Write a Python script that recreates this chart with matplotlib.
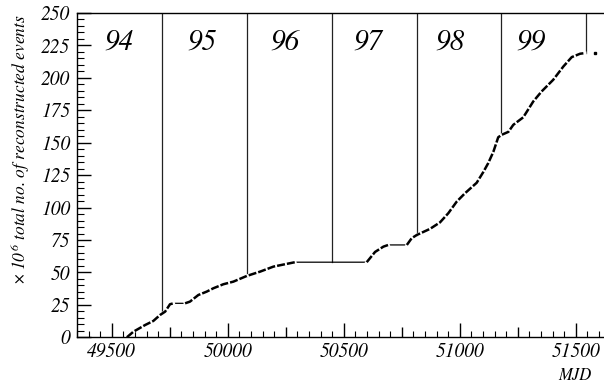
import numpy as np
import matplotlib
matplotlib.use("Agg")
import matplotlib.pyplot as plt
from matplotlib.ticker import MultipleLocator, FuncFormatter

# ---- data ----
mjd = [49565, 49593, 49644, 49679, 49708, 49730, 49751, 49766, 49816, 49837,
       49873, 49909, 49938, 49981, 50024, 50082, 50139, 50197, 50254, 50290,
       50599, 50635, 50671, 50692, 50772, 50793, 50815, 50872, 50915, 50951,
       50987, 51023, 51073, 51102, 51123, 51145, 51166, 51181, 51210, 51231,
       51274, 51317, 51353, 51403, 51447, 51483, 51519, 51540]
events = [0.0, 4.3, 9.5, 12.6, 17.2, 19.8, 25.5, 26.2, 26.2, 27.5,
          32.6, 35.2, 37.8, 40.9, 42.9, 47.3, 50.6, 54.5, 56.6, 57.9,
          57.9, 65.8, 69.9, 71.2, 71.2, 76.4, 78.9, 83.6, 88.6, 95.7,
          104.6, 111.1, 119.1, 127.5, 134.3, 143.0, 154.2, 156.1, 158.4, 163.8,
          169.6, 181.8, 189.5, 198.5, 208.8, 216.0, 218.6, 219.1]
last_point_mjd = [51583]
last_point_events = [219.1]

year_start_mjd = [49718, 50083, 50449, 50814, 51179, 51544]
year_labels = ["94", "95", "96", "97", "98", "99"]
year_label_mjd = [49530, 49888, 50247, 50603, 50958, 51307]
year_label_y = 227.5

x_ticks_labeled = [49500, 50000, 50500, 51000, 51500]
y_ticks = [0, 25, 50, 75, 100, 125, 150, 175, 200, 225, 250]

# ---- figure ----
serif = ["STIXGeneral", "Liberation Serif", "DejaVu Serif"]
plt.rcParams["font.family"] = serif
plt.rcParams["font.style"] = "italic"
plt.rcParams["mathtext.fontset"] = "stix"
fig = plt.figure(figsize=(6.04, 3.82), dpi=100)
ax = fig.add_axes([77/604, (382-337.3)/382, 1.0 - 77/604, (337.3-13)/382])

mjd_a = np.array(mjd, float)
ev_a = np.array(events, float)

# thin solid line through everything (flat periods)
ax.plot(mjd_a, ev_a, color="black", lw=0.9, solid_capstyle="butt", zorder=2)

# dashed thick line only on data-taking segments (break on flat parts)
xs, ys = [], []
for i in range(len(mjd_a) - 1):
    xs.append(mjd_a[i]); ys.append(ev_a[i])
    if ev_a[i + 1] == ev_a[i]:
        xs.append(np.nan); ys.append(np.nan)
xs.append(mjd_a[-1]); ys.append(ev_a[-1])
ax.plot(xs, ys, color="white", lw=2.2, zorder=3)
ax.plot(xs, ys, color="black", lw=1.8, ls=(0, (3.2, 0.8)), zorder=4)
ax.plot(last_point_mjd, last_point_events, ls="none", marker="s",
        ms=1.8, color="black", zorder=4)

# year boundaries
for ys_ in year_start_mjd:
    v = np.interp(ys_, mjd_a, ev_a)
    ax.plot([ys_, ys_], [v, 250], color="#222222", lw=0.9, zorder=1)

for lab, xm in zip(year_labels, year_label_mjd):
    ax.text(xm, year_label_y, lab, ha="center", va="center",
            fontsize=21, family=serif, style="italic")

ax.set_xlim(49350, 51622)
ax.set_ylim(0, 250)

ax.xaxis.set_major_locator(MultipleLocator(250))
ax.xaxis.set_minor_locator(MultipleLocator(50))
ax.xaxis.set_major_formatter(
    FuncFormatter(lambda v, p: "%d" % v if int(round(v)) in x_ticks_labeled else ""))
ax.set_yticks(y_ticks)
ax.yaxis.set_minor_locator(MultipleLocator(5))

ax.tick_params(axis="both", which="both", direction="in", top=False, right=False,
               color="black", labelsize=14)
ax.tick_params(axis="x", which="major", length=10, width=1.0, pad=4)
ax.tick_params(axis="x", which="minor", length=4, width=0.8)
ax.tick_params(axis="y", which="major", length=10, width=1.0, pad=5)
ax.tick_params(axis="y", which="minor", length=5, width=0.8)

for sp in ["left", "bottom", "top"]:
    ax.spines[sp].set_linewidth(1.0)
ax.spines["right"].set_visible(False)

fig.canvas.draw()
for t in ax.xaxis.get_major_ticks():
    loc = t.get_loc()
    if int(round(loc)) not in x_ticks_labeled:
        t.tick1line.set_markersize(7)
for lab in ax.get_xticklabels() + ax.get_yticklabels():
    lab.set_fontstyle("italic")

fig.text(20/604, 1 - 150/382,
         r"$\times\;10^{\,6}$ total no. of reconstructed events",
         rotation=90, ha="center", va="center",
         fontsize=12.5, family=serif, style="italic")
fig.text(575/604, 1 - 379.5/382, "MJD", ha="center", va="baseline",
         fontsize=12, family=serif, style="italic")

fig.savefig("out.png", dpi=100)
